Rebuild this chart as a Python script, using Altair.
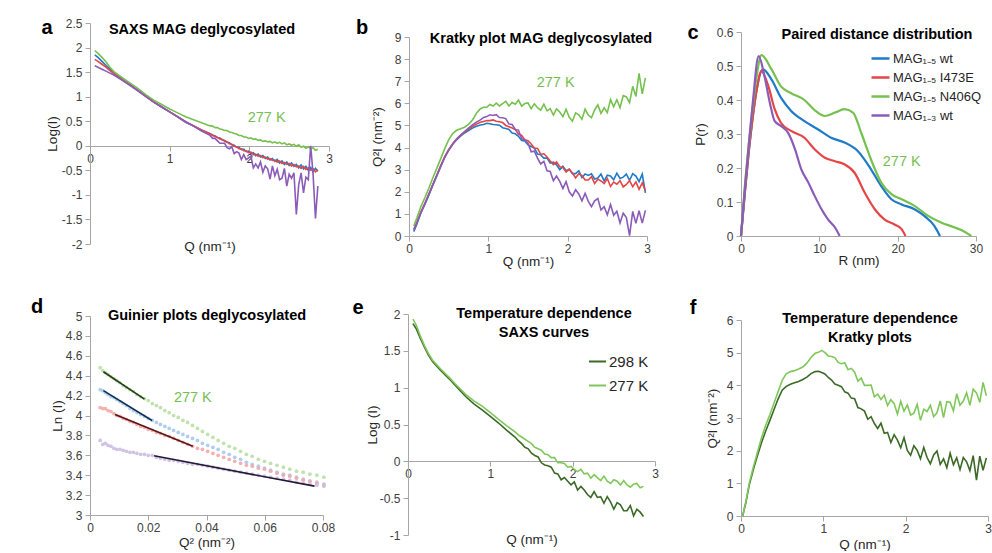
import altair as alt
import pandas as pd

FONT = "Liberation Sans"
AXIS_C = "#a6a6a6"
LABEL_C = "#404040"
TITLE_C = "#262626"

C_BLUE, C_RED, C_GREEN, C_PURPLE = "#1f7bc8", "#e64545", "#76c04f", "#8a5cb8"
C_DARK, C_LIGHT = "#3b6a26", "#80c75b"
P_BLUE, P_RED, P_GREEN, P_PURPLE = "#a9c9ec", "#f4a9a9", "#b9dfa6", "#cbbde3"
F_BLUE, F_RED, F_GREEN, F_PURPLE = "#102f52", "#5a1414", "#233d19", "#251a36"

SER4 = ["MAG₁₋₅ wt", "MAG₁₋₅ I473E", "MAG₁₋₅ N406Q", "MAG₁₋₃ wt"]
SER2 = ["298 K", "277 K"]

# ---------------- panel a : SAXS curves ----------------
q_a = [0.06, 0.1, 0.15, 0.2, 0.25, 0.3, 0.4, 0.5, 0.6, 0.7, 0.8, 0.9, 1.0, 1.1, 1.2, 1.3, 1.4, 1.5,
       1.54, 1.57, 1.60, 1.63, 1.66, 1.69, 1.72, 1.75, 1.78, 1.81, 1.84, 1.87, 1.90, 1.93, 1.96, 1.99,
       2.02, 2.05, 2.08, 2.11, 2.14, 2.17, 2.20, 2.23, 2.26, 2.29, 2.32, 2.35, 2.38, 2.41, 2.44, 2.47,
       2.50, 2.53, 2.56, 2.59, 2.62, 2.65, 2.68, 2.71, 2.74, 2.77, 2.80, 2.83, 2.86]
a_blue = [1.85, 1.80, 1.72, 1.64, 1.56, 1.48, 1.36, 1.25, 1.13, 1.01, 0.89, 0.79, 0.69, 0.59, 0.48, 0.40, 0.32, 0.25,
          0.22, 0.20, 0.17, 0.16, 0.12, 0.11, 0.07, 0.06, 0.02, 0.01, -0.03, -0.03, -0.08, -0.07, -0.12, -0.11,
          -0.16, -0.14, -0.20, -0.17, -0.23, -0.20, -0.26, -0.23, -0.29, -0.26, -0.32, -0.28, -0.35, -0.31,
          -0.38, -0.33, -0.40, -0.35, -0.42, -0.38, -0.45, -0.39, -0.47, -0.42, -0.50, -0.44, -0.53, -0.46, -0.52]
a_red = [1.76, 1.72, 1.66, 1.60, 1.53, 1.47, 1.35, 1.24, 1.13, 1.01, 0.90, 0.79, 0.69, 0.59, 0.49, 0.41, 0.32, 0.25,
         0.21, 0.19, 0.17, 0.14, 0.13, 0.09, 0.08, 0.04, 0.03, -0.01, -0.02, -0.06, -0.06, -0.10, -0.10, -0.14,
         -0.13, -0.18, -0.17, -0.21, -0.20, -0.24, -0.23, -0.27, -0.26, -0.30, -0.29, -0.33, -0.31, -0.36,
         -0.34, -0.38, -0.36, -0.41, -0.38, -0.43, -0.41, -0.46, -0.42, -0.48, -0.45, -0.50, -0.47, -0.53, -0.49]
a_green = [1.94, 1.88, 1.80, 1.71, 1.60, 1.51, 1.39, 1.28, 1.17, 1.04, 0.93, 0.84, 0.75, 0.67, 0.59, 0.53, 0.47, 0.41,
           0.40, 0.37, 0.37, 0.34, 0.33, 0.31, 0.31, 0.28, 0.27, 0.25, 0.24, 0.21, 0.21, 0.18, 0.18, 0.15,
           0.16, 0.13, 0.14, 0.11, 0.12, 0.09, 0.10, 0.08, 0.09, 0.06, 0.08, 0.05, 0.07, 0.04, 0.06, 0.02,
           0.04, 0.01, 0.03, -0.01, 0.02, -0.03, -0.01, -0.05, -0.02, -0.06, -0.04, -0.09, -0.07]
a_purple = [1.63, 1.60, 1.56, 1.52, 1.48, 1.44, 1.34, 1.23, 1.12, 1.00, 0.89, 0.79, 0.69, 0.59, 0.49, 0.40, 0.30, 0.22,
            0.15, 0.15, 0.10, 0.05, 0.05, 0.05, -0.04, -0.06, -0.02, -0.16, -0.12, -0.15, -0.28, -0.18, -0.28, -0.25,
            -0.21, -0.45, -0.37, -0.45, -0.33, -0.54, -0.41, -0.47, -0.68, -0.41, -0.61, -0.48, -0.69, -0.66,
            -0.46, -0.82, -0.58, -0.66, -0.55, -1.40, -0.79, -0.55, -0.96, -0.64, -0.69, 0.00, -0.58, -1.48, -0.82]

# ---------------- panel b : Kratky ----------------
q_b = [0.06, 0.1, 0.15, 0.2, 0.25, 0.3, 0.35, 0.4, 0.45, 0.5, 0.55, 0.6, 0.65, 0.7, 0.75, 0.8, 0.85, 0.9,
       0.94, 0.98, 1.02, 1.06, 1.10, 1.14, 1.18, 1.22, 1.26, 1.30, 1.34, 1.38, 1.42, 1.46, 1.50, 1.54,
       1.58, 1.62, 1.66, 1.70, 1.74, 1.78, 1.82, 1.86, 1.90, 1.94, 1.98, 2.02, 2.06, 2.10, 2.14, 2.18,
       2.22, 2.26, 2.30, 2.34, 2.38, 2.42, 2.46, 2.50, 2.54, 2.58, 2.62, 2.66, 2.70, 2.74, 2.78, 2.82,
       2.86, 2.90, 2.94, 2.98]
b_blue = [0.20, 0.55, 1.05, 1.43, 1.85, 2.30, 2.72, 3.15, 3.58, 3.88, 4.15, 4.35, 4.52, 4.66, 4.77, 4.88, 4.96, 5.02,
          5.04, 5.10, 5.08, 5.04, 5.03, 5.01, 4.90, 4.86, 4.82, 4.66, 4.62, 4.51, 4.32, 4.30, 4.12, 4.05,
          3.98, 3.71, 3.67, 3.52, 3.52, 3.30, 3.34, 3.22, 3.00, 3.15, 2.95, 3.02, 2.82, 2.82, 2.95, 2.64,
          2.81, 2.74, 2.81, 2.58, 2.62, 2.80, 2.49, 2.75, 2.71, 2.54, 2.84, 2.60, 2.66, 2.80, 2.52, 2.82,
          2.71, 2.46, 2.80, 1.95]
b_red = [0.28, 0.62, 1.08, 1.48, 1.90, 2.33, 2.75, 3.18, 3.58, 3.90, 4.17, 4.38, 4.56, 4.70, 4.83, 4.95, 5.06, 5.14,
         5.18, 5.22, 5.22, 5.25, 5.19, 5.17, 5.13, 5.00, 4.94, 4.88, 4.81, 4.61, 4.55, 4.35, 4.31, 4.16,
         3.98, 3.96, 3.70, 3.72, 3.57, 3.39, 3.23, 3.35, 3.13, 3.10, 2.89, 3.02, 2.85, 2.63, 2.81, 2.73,
         2.53, 2.53, 2.68, 2.38, 2.57, 2.49, 2.37, 2.60, 2.24, 2.44, 2.34, 2.50, 2.22, 2.33, 2.50, 2.23,
         2.45, 2.11, 2.40, 2.05]
b_green = [0.45, 0.82, 1.33, 1.73, 2.16, 2.62, 3.06, 3.50, 3.95, 4.35, 4.63, 4.78, 4.85, 4.92, 5.05, 5.25, 5.55, 5.76,
           5.82, 5.82, 5.95, 5.88, 6.01, 5.88, 5.99, 6.09, 5.88, 6.04, 5.96, 6.15, 5.87, 5.99, 6.02, 5.76,
           5.98, 5.80, 5.69, 5.96, 5.66, 5.76, 5.47, 5.75, 5.61, 5.40, 5.73, 5.37, 5.19, 5.57, 5.48, 5.28,
           5.74, 5.47, 5.35, 5.70, 5.93, 5.55, 5.80, 5.58, 6.17, 5.84, 6.16, 5.80, 6.35, 6.29, 6.03, 6.77,
           6.31, 7.35, 6.43, 7.15]
b_purple = [0.30, 0.60, 1.05, 1.45, 1.88, 2.30, 2.73, 3.15, 3.55, 3.88, 4.15, 4.38, 4.55, 4.72, 4.88, 5.02, 5.15, 5.25,
            5.36, 5.40, 5.48, 5.45, 5.49, 5.36, 5.35, 5.31, 5.06, 5.04, 4.82, 4.79, 4.40, 4.34, 4.20, 3.81,
            3.84, 3.52, 3.26, 3.38, 2.95, 2.92, 2.50, 2.71, 2.47, 2.15, 2.46, 2.00, 1.81, 2.09, 1.90, 1.59,
            1.93, 1.57, 1.33, 1.59, 1.69, 1.18, 1.33, 0.96, 1.42, 0.94, 1.12, 0.59, 1.03, 0.83, 0.02, 1.11,
            0.57, 1.15, 0.58, 1.16]

# ---------------- panel c : P(r) ----------------
r_blue = [0, 0.5, 1.0, 1.5, 2.0, 2.8, 3.9, 5.1, 6.4, 8.1, 9.8, 11.5, 13.2, 14.9, 16.6, 17.9, 19.2, 20.5, 22.2, 23.4, 24.7, 25.4]
p_blue = [0, 0.13, 0.25, 0.35, 0.43, 0.49, 0.46, 0.407, 0.368, 0.338, 0.314, 0.289, 0.275, 0.25, 0.196, 0.147, 0.108, 0.093, 0.078, 0.059, 0.029, 0]
r_red = [0, 0.5, 1.0, 1.5, 2.0, 2.6, 3.5, 4.3, 5.1, 6.4, 8.1, 9.4, 10.7, 12.0, 13.2, 14.5, 15.8, 17.1, 18.3, 19.6, 20.5, 21.0]
p_red = [0, 0.13, 0.25, 0.35, 0.43, 0.485, 0.44, 0.373, 0.333, 0.309, 0.289, 0.255, 0.23, 0.22, 0.211, 0.186, 0.127, 0.078, 0.049, 0.034, 0.02, 0]
r_green = [0, 0.5, 1.0, 1.5, 2.0, 2.6, 3.9, 5.1, 6.4, 8.1, 9.4, 10.7, 12.0, 13.2, 14.3, 15.4, 16.6, 17.9, 19.2, 20.5, 22.2, 23.9, 25.6, 27.3, 28.6, 29.4]
p_green = [0, 0.15, 0.27, 0.38, 0.47, 0.532, 0.49, 0.44, 0.42, 0.40, 0.37, 0.353, 0.363, 0.373, 0.363, 0.30, 0.225, 0.157, 0.123, 0.108, 0.088, 0.059, 0.039, 0.025, 0.012, 0]
r_purple = [0, 0.5, 1.0, 1.5, 2.25, 3.0, 3.7, 4.3, 5.1, 6.0, 6.9, 7.7, 8.6, 9.4, 10.3, 11.1, 12.0, 12.6]
p_purple = [0, 0.14, 0.27, 0.39, 0.529, 0.47, 0.39, 0.338, 0.324, 0.304, 0.255, 0.196, 0.157, 0.118, 0.078, 0.049, 0.025, 0]

# ---------------- panel d : Guinier ----------------
q2_d = [0.0035, 0.0044, 0.0053, 0.0062, 0.0072, 0.0082, 0.0092, 0.0103, 0.0114, 0.0125,
        0.0137, 0.0149, 0.0161, 0.0174, 0.0187, 0.0200, 0.0214, 0.0228, 0.0242, 0.0257,
        0.0272, 0.0287, 0.0303, 0.0319, 0.0335, 0.0352, 0.0369, 0.0386, 0.0404, 0.0422,
        0.0440, 0.0459, 0.0478, 0.0497, 0.0517, 0.0537, 0.0557, 0.0578, 0.0599, 0.0620,
        0.0642, 0.0664, 0.0686, 0.0709, 0.0732, 0.0755, 0.0779, 0.0803]
d_blue = [4.26, 4.25, 4.23, 4.21, 4.19, 4.18, 4.16, 4.14, 4.12, 4.10, 4.07, 4.05, 4.03, 4.01, 3.99, 3.97,
          3.95, 3.93, 3.91, 3.89, 3.87, 3.85, 3.83, 3.81, 3.79, 3.77, 3.75, 3.72, 3.70, 3.68, 3.66, 3.63,
          3.61, 3.58, 3.56, 3.53, 3.51, 3.49, 3.47, 3.45, 3.43, 3.41, 3.40, 3.38, 3.36, 3.34, 3.33, 3.31]
d_red = [4.08, 4.07, 4.07, 4.05, 4.04, 4.02, 4.00, 3.99, 3.97, 3.96, 3.94, 3.93, 3.91, 3.89, 3.88, 3.86,
         3.85, 3.83, 3.82, 3.80, 3.79, 3.77, 3.75, 3.73, 3.71, 3.69, 3.67, 3.66, 3.64, 3.62, 3.60, 3.58,
         3.56, 3.54, 3.52, 3.50, 3.49, 3.47, 3.46, 3.44, 3.42, 3.40, 3.39, 3.37, 3.35, 3.34, 3.32, 3.30]
d_green = [4.48, 4.45, 4.43, 4.41, 4.39, 4.37, 4.35, 4.33, 4.30, 4.28, 4.26, 4.24, 4.21, 4.19, 4.17, 4.15,
           4.12, 4.10, 4.08, 4.05, 4.03, 4.00, 3.98, 3.95, 3.93, 3.90, 3.87, 3.84, 3.81, 3.78, 3.75, 3.72,
           3.69, 3.67, 3.64, 3.61, 3.59, 3.56, 3.54, 3.52, 3.50, 3.48, 3.46, 3.44, 3.43, 3.41, 3.40, 3.38]
d_purple = [3.75, 3.71, 3.72, 3.70, 3.69, 3.67, 3.66, 3.66, 3.65, 3.64, 3.63, 3.63, 3.62, 3.61, 3.61, 3.60,
            3.60, 3.58, 3.57, 3.56, 3.55, 3.55, 3.54, 3.53, 3.52, 3.51, 3.51, 3.50, 3.49, 3.48, 3.47, 3.46,
            3.45, 3.44, 3.43, 3.42, 3.41, 3.40, 3.39, 3.38, 3.37, 3.36, 3.35, 3.33, 3.32, 3.31, 3.30, 3.29]
fit_q2 = {"MAG₁₋₅ wt": [0.0046, 0.0213], "MAG₁₋₅ I473E": [0.0086, 0.0353],
          "MAG₁₋₅ N406Q": [0.0046, 0.0187], "MAG₁₋₃ wt": [0.022, 0.0771]}
fit_ln = {"MAG₁₋₅ wt": [4.25, 3.95], "MAG₁₋₅ I473E": [4.01, 3.69],
          "MAG₁₋₅ N406Q": [4.44, 4.165], "MAG₁₋₃ wt": [3.595, 3.29]}

# ---------------- panel e : temperature SAXS ----------------
q_e = [0.06, 0.1, 0.15, 0.2, 0.25, 0.3, 0.4, 0.5, 0.6, 0.7, 0.8, 0.9, 1.0, 1.1, 1.2, 1.3,
       1.34, 1.38, 1.42, 1.46, 1.50, 1.54, 1.58, 1.62, 1.66, 1.70, 1.74, 1.78, 1.82, 1.86, 1.90,
       1.94, 1.98, 2.02, 2.06, 2.10, 2.14, 2.18, 2.22, 2.26, 2.30, 2.34, 2.38, 2.42, 2.46, 2.50,
       2.54, 2.58, 2.62, 2.66, 2.70, 2.74, 2.78, 2.82, 2.86]
e_298 = [1.87, 1.80, 1.67, 1.55, 1.44, 1.35, 1.23, 1.12, 1.00, 0.88, 0.78, 0.70, 0.61, 0.52, 0.42, 0.33,
         0.28, 0.24, 0.19, 0.17, 0.11, 0.08, 0.06, -0.02, -0.05, -0.06, -0.08, -0.16, -0.17, -0.25, -0.22,
         -0.27, -0.32, -0.28, -0.39, -0.34, -0.39, -0.45, -0.49, -0.41, -0.49, -0.48, -0.57, -0.48, -0.55, -0.65,
         -0.56, -0.59, -0.67, -0.67, -0.60, -0.74, -0.65, -0.69, -0.75]
e_277 = [1.93, 1.85, 1.70, 1.57, 1.46, 1.37, 1.25, 1.14, 1.02, 0.91, 0.82, 0.75, 0.66, 0.57, 0.48, 0.40,
         0.36, 0.33, 0.30, 0.27, 0.24, 0.19, 0.17, 0.15, 0.10, 0.09, 0.05, 0.05, -0.02, -0.02, -0.03,
         -0.08, -0.07, -0.11, -0.14, -0.11, -0.17, -0.16, -0.23, -0.18, -0.22, -0.26, -0.20, -0.27, -0.30, -0.25,
         -0.27, -0.32, -0.26, -0.32, -0.35, -0.31, -0.30, -0.36, -0.34]

# ---------------- panel f : temperature Kratky ----------------
q_f = [0.02, 0.06, 0.1, 0.15, 0.2, 0.25, 0.3, 0.35, 0.4, 0.45, 0.5, 0.55, 0.6, 0.65, 0.7, 0.75, 0.8, 0.85, 0.9,
       0.94, 0.98, 1.02, 1.06, 1.10, 1.14, 1.18, 1.22, 1.26, 1.30, 1.34, 1.38, 1.42, 1.46, 1.50, 1.54,
       1.58, 1.62, 1.66, 1.70, 1.74, 1.78, 1.82, 1.86, 1.90, 1.94, 1.98, 2.02, 2.06, 2.10, 2.14, 2.18,
       2.22, 2.26, 2.30, 2.34, 2.38, 2.42, 2.46, 2.50, 2.54, 2.58, 2.62, 2.66, 2.70, 2.74, 2.78, 2.82,
       2.86, 2.90, 2.94, 2.98]
f_298 = [0.0, 0.42, 0.95, 1.42, 1.85, 2.25, 2.60, 2.92, 3.25, 3.58, 3.85, 3.97, 4.03, 4.08, 4.12, 4.18, 4.25, 4.36, 4.42,
         4.43, 4.39, 4.35, 4.24, 4.16, 4.04, 4.00, 3.96, 3.80, 3.76, 3.61, 3.59, 3.32, 3.28, 3.21, 2.96,
         3.04, 2.83, 2.68, 2.84, 2.53, 2.56, 2.25, 2.49, 2.32, 2.09, 2.40, 2.01, 1.86, 2.15, 2.01, 1.75,
         2.10, 1.79, 1.60, 1.87, 1.99, 1.58, 1.75, 1.48, 1.92, 1.57, 1.78, 1.42, 1.79, 1.66, 1.39, 1.85,
         1.10, 1.83, 1.40, 1.78]
f_277 = [0.0, 0.45, 1.0, 1.50, 1.95, 2.40, 2.78, 3.10, 3.45, 3.80, 4.15, 4.35, 4.42, 4.45, 4.50, 4.56, 4.68, 4.85, 4.98,
         5.01, 5.07, 5.00, 4.90, 4.88, 4.85, 4.70, 4.66, 4.69, 4.48, 4.52, 4.40, 4.13, 4.22, 4.00, 4.00,
         4.01, 3.65, 3.73, 3.57, 3.70, 3.38, 3.56, 3.44, 3.12, 3.51, 3.21, 3.40, 3.09, 3.15, 3.42, 2.93,
         3.27, 3.20, 3.39, 3.04, 3.16, 3.52, 3.01, 3.50, 3.48, 3.22, 3.74, 3.39, 3.52, 3.77, 3.39, 3.88,
         3.77, 3.48, 4.09, 3.68]

# ---------------- tick values ----------------
ticks_q = [0, 1, 2, 3]
ticks_a_y = [-2, -1.5, -1, -0.5, 0, 0.5, 1, 1.5, 2, 2.5]
ticks_b_y = [0, 1, 2, 3, 4, 5, 6, 7, 8, 9]
ticks_c_x = [0, 10, 20, 30]
ticks_c_y = [0, 0.1, 0.2, 0.3, 0.4, 0.5, 0.6]
ticks_d_x = [0, 0.02, 0.04, 0.06, 0.08]
ticks_d_y = [3, 3.2, 3.4, 3.6, 3.8, 4, 4.2, 4.4, 4.6, 4.8, 5]
ticks_e_y = [-1, -0.5, 0, 0.5, 1, 1.5, 2]
ticks_f_y = [0, 1, 2, 3, 4, 5, 6]


def frame(xs_by, ys_by, names):
    rows = []
    for name in names:
        xs, ys = xs_by[name], ys_by[name]
        if len(xs) != len(ys):
            raise ValueError(f"{name}: {len(xs)} x vs {len(ys)} y")
        rows += [{"x": a, "y": b, "s": name} for a, b in zip(xs, ys)]
    return pd.DataFrame(rows)


def x_axis(values, title, offset, title_y):
    return alt.Axis(values=values, title=title, grid=False, offset=offset,
                    domainColor=AXIS_C, tickColor=AXIS_C, tickSize=5,
                    labelFont=FONT, labelFontSize=12, labelColor=LABEL_C, labelPadding=2,
                    labelExpr="'' + datum.value", labelFlush=False, labelOverlap=False,
                    titleFont=FONT, titleFontSize=13.5, titleFontWeight="normal", titleColor=TITLE_C,
                    titleY=title_y, titleBaseline="middle")


def y_axis(values, title, title_x, offset=0):
    return alt.Axis(values=values, title=title, grid=False, offset=offset,
                    domainColor=AXIS_C, tickColor=AXIS_C, tickSize=5,
                    labelFont=FONT, labelFontSize=12, labelColor=LABEL_C, labelPadding=3,
                    labelExpr="'' + datum.value", labelFlush=False, labelOverlap=False,
                    titleFont=FONT, titleFontSize=13.5, titleFontWeight="normal", titleColor=TITLE_C,
                    titleX=title_x, titleBaseline="middle")


def enc(xdom, xrng, xax, ydom, yrng, yax):
    X = alt.X("x:Q", scale=alt.Scale(domain=xdom, range=xrng, nice=False, zero=False), axis=xax)
    Y = alt.Y("y:Q", scale=alt.Scale(domain=ydom, range=yrng, nice=False, zero=False), axis=yax)
    return X, Y


def annot(text, x, y, size, weight="bold", color="#000000"):
    return alt.Chart(pd.DataFrame({"t": [text]})).mark_text(
        font=FONT, fontSize=size, fontWeight=weight, color=color, align="center", baseline="middle"
    ).encode(x=alt.value(x), y=alt.value(y), text="t:N")


def k277(xv, yv, X, Y):
    return alt.Chart(pd.DataFrame({"x": [xv], "y": [yv], "t": ["277 K"]})).mark_text(
        font=FONT, fontSize=14.5, color=C_GREEN, align="left", baseline="middle"
    ).encode(x=X, y=Y, text="t:N")


def lines(df, X, Y, names, colors, legend=None, interp="linear", sw=1.8):
    return alt.Chart(df).mark_line(strokeWidth=sw, interpolate=interp).encode(
        x=X, y=Y, color=alt.Color("s:N", scale=alt.Scale(domain=names, range=colors), legend=legend))


COL4 = [C_BLUE, C_RED, C_GREEN, C_PURPLE]
TW, TS = 14.5, 20  # title size, panel letter size

# ---- a
Xa, Ya = enc([0, 3], [0, 239], x_axis(ticks_q, "Q (nm⁻¹)", -98, 100),
             [-2, 2.5], [221, 0], y_axis(ticks_a_y, "Log(I)", -38))
df_a = frame({n: q_a for n in SER4}, dict(zip(SER4, [a_blue, a_red, a_green, a_purple])), SER4)
pa = alt.layer(lines(df_a, Xa, Ya, SER4, COL4, sw=1.6), k277(1.98, 0.57, Xa, Ya),
               annot("SAXS MAG deglycosylated", 112, 7, TW), annot("a", -43, 5, TS)
               ).properties(width=318, height=221)

# ---- b
Xb, Yb = enc([0, 3], [1, 239], x_axis(ticks_q, "Q (nm⁻¹)", -8, 25),
             [0, 9], [213, 14], y_axis(ticks_b_y, "Q²I (nm⁻²)", -32, -1))
df_b = frame({n: q_b for n in SER4}, dict(zip(SER4, [b_blue, b_red, b_green, b_purple])), SER4)
pb = alt.layer(lines(df_b, Xb, Yb, SER4, COL4, sw=1.6), k277(1.61, 6.92, Xb, Yb),
               annot("Kratky plot MAG deglycosylated", 133, 16, TW), annot("b", -46, 5, TS)
               ).properties(width=333, height=221)

# ---- c
Xc, Yc = enc([0, 30], [0, 235], x_axis(ticks_c_x, "R (nm)", -8, 24),
             [0, 0.6], [213, 9], y_axis(ticks_c_y, "P(r)", -41))
df_c = frame(dict(zip(SER4, [r_blue, r_red, r_green, r_purple])),
             dict(zip(SER4, [p_blue, p_red, p_green, p_purple])), SER4)
leg_c = alt.Legend(orient="none", legendX=129, legendY=25, title=None, symbolType="stroke",
                   symbolSize=324, symbolStrokeWidth=2.5, labelFont=FONT, labelFontSize=13,
                   labelColor=TITLE_C, labelOffset=2, rowPadding=1, padding=0)
pc = alt.layer(lines(df_c, Xc, Yc, SER4, COL4, legend=leg_c, interp="monotone", sw=2.2),
               k277(18.1, 0.218, Xc, Yc),
               annot("Paired distance distribution", 136, 12, TW), annot("c", -48, 10, TS)
               ).properties(width=251, height=221)

# ---- d
Xd, Yd = enc([0, 0.08], [0, 233], x_axis(ticks_d_x, "Q² (nm⁻²)", -20, 27),
             [3, 5], [201, 2], y_axis(ticks_d_y, "Ln (I)", -33))
df_d = frame({n: q2_d for n in SER4}, dict(zip(SER4, [d_blue, d_red, d_green, d_purple])), SER4)
df_fit = frame(fit_q2, fit_ln, SER4)
dots = alt.Chart(df_d).mark_circle(size=14, opacity=0.9).encode(
    x=Xd, y=Yd, color=alt.Color("s:N", scale=alt.Scale(domain=SER4, range=[P_BLUE, P_RED, P_GREEN, P_PURPLE]), legend=None))
fits = alt.Chart(df_fit).mark_line(strokeWidth=1.6).encode(
    x=Xd, y=Yd, color=alt.Color("s:N", scale=alt.Scale(domain=SER4, range=[F_BLUE, F_RED, F_GREEN, F_PURPLE]), legend=None))
pd_ = alt.layer(dots, fits, k277(0.0288, 4.18, Xd, Yd),
                annot("Guinier plots deglycosylated", 117, 2, TW), annot("d", -53, -7, TS)
                ).resolve_scale(color="independent").properties(width=318, height=221)

# ---- e
Xe, Ye = enc([0, 3], [0, 247], x_axis(ticks_q, "Q (nm⁻¹)", -74, 78),
             [-1, 2], [221, 0], y_axis(ticks_e_y, "Log (I)", -36))
df_e = frame({n: q_e for n in SER2}, dict(zip(SER2, [e_298, e_277])), SER2)
leg_e = alt.Legend(orient="none", legendX=180, legendY=38, title=None, symbolType="stroke",
                   symbolSize=289, symbolStrokeWidth=2, labelFont=FONT, labelFontSize=15,
                   labelColor=TITLE_C, labelOffset=2, rowPadding=6, padding=0)
pe = alt.layer(lines(df_e, Xe, Ye, SER2, [C_DARK, C_LIGHT], legend=leg_e, sw=1.6),
               annot("Temperature dependence", 136, 0, TW), annot("SAXS curves", 136, 19, TW),
               annot("e", -50, -6, TS)
               ).properties(width=333, height=221)

# ---- f
Xf, Yf = enc([0, 3], [0, 247], x_axis(ticks_q, "Q (nm⁻¹)", -19, 28),
             [0, 6], [202, 6], y_axis(ticks_f_y, "Q²I (nm⁻²)", -29))
df_f = frame({n: q_f for n in SER2}, dict(zip(SER2, [f_298, f_277])), SER2)
pf = alt.layer(lines(df_f, Xf, Yf, SER2, [C_DARK, C_LIGHT], sw=1.6),
               annot("Temperature dependence", 129, 5, TW), annot("Kratky plots", 129, 24, TW),
               annot("f", -48, -6, TS)
               ).properties(width=251, height=221)

chart = alt.concat(pa, pb, pc, pd_, pe, pf, columns=3, spacing={"row": 70, "column": 0},
                   bounds="flush", align="each"
                   ).resolve_scale(color="independent").properties(
    padding={"left": 30, "top": 17, "right": 0, "bottom": 0}, background="white"
).configure_view(strokeWidth=0)

chart.save("out.html", embed_options={"renderer": "svg", "actions": False})
